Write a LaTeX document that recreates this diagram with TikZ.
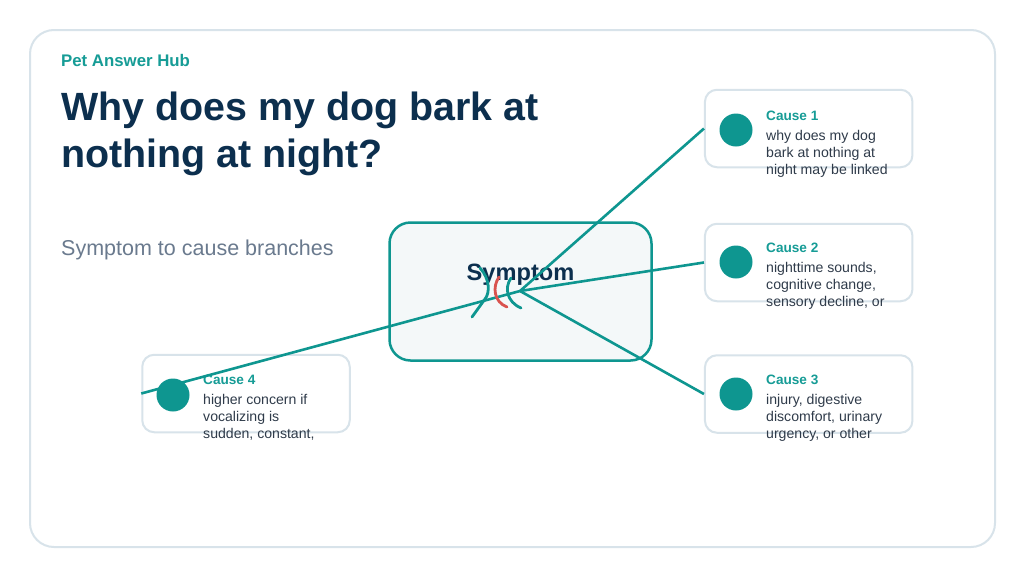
\documentclass[tikz,border=0pt]{standalone}
\usepackage{fontspec}
\setmainfont{Liberation Sans}
\definecolor{tealc}{RGB}{14,150,144}
\definecolor{tealtxt}{RGB}{22,156,150}
\definecolor{navy}{RGB}{12,47,78}
\definecolor{subgray}{RGB}{106,122,142}
\definecolor{bodyc}{RGB}{47,59,74}
\definecolor{cardline}{RGB}{216,227,234}
\definecolor{boxfill}{RGB}{244,248,249}
\definecolor{wavered}{RGB}{217,83,79}
\begin{document}
\begin{tikzpicture}[x=1pt, y=-1pt,
  card/.style={draw=cardline, line width=2pt, fill=white, rounded corners=12pt,
    minimum width=207.5, minimum height=77.5, inner sep=0pt},
  dot/.style={circle, fill=tealc, minimum size=33, inner sep=0pt},
  cause/.style={anchor=base west, inner sep=0pt, text=tealtxt,
    font=\fontsize{13.6}{16}\selectfont\bfseries},
  body/.style={anchor=north west, inner sep=0pt, align=left, text=bodyc,
    font=\fontsize{14.1}{17}\selectfont},
  link/.style={draw=tealc, line width=2.6pt},
  wave/.style={line width=2.8pt, line cap=round}]
  \useasboundingbox (0,0) rectangle (1024,576);
  \fill[white] (0,0) rectangle (1024,576);
  \draw[cardline, line width=2pt, rounded corners=24pt] (30,30) rectangle (995,547);

  \node[anchor=base west, inner sep=0pt, text=tealtxt, font=\fontsize{16.8}{20}\selectfont\bfseries] (brand) at (61,66) {Pet Answer Hub};
  \node[anchor=north west, inner sep=0pt, align=left, text=navy, font=\fontsize{39.4}{46.7}\selectfont\bfseries] (title) at (61,91.8) {Why does my dog bark at\\nothing at night?};
  \node[anchor=base west, inner sep=0pt, text=subgray, font=\fontsize{21.5}{26}\selectfont] (sub) at (61,255) {Symptom to cause branches};

  \node[draw=tealc, line width=2.5pt, fill=boxfill, rounded corners=21pt, minimum width=262, minimum height=138, inner sep=0pt] (symbox) at (520.5,291.5) {};
  \node[anchor=base, inner sep=0pt, text=navy, font=\fontsize{23.6}{28}\selectfont\bfseries] (symtxt) at (520.5,280) {Symptom};
  \coordinate (hub) at (520,291);

  \node[card] (card1) at (808.7,128.5) {};
  \node[card] (card2) at (808.7,262.5) {};
  \node[card] (card3) at (808.7,394) {};
  \node[card] (card4) at (246,393.5) {};
  \node[dot] (dot1) at (736,130) {};
  \node[dot] (dot2) at (736,262) {};
  \node[dot] (dot3) at (736,394) {};
  \node[dot] (dot4) at (173,395) {};

  \node[cause] (c1) at (766,120) {Cause 1};
  \node[body] (b1) at (766,130) {why does my dog\\bark at nothing at\\night may be linked};
  \node[cause] (c2) at (766,252) {Cause 2};
  \node[body] (b2) at (766,262) {nighttime sounds,\\cognitive change,\\sensory decline, or};
  \node[cause] (c3) at (766,384) {Cause 3};
  \node[body] (b3) at (766,394) {injury, digestive\\discomfort, urinary\\urgency, or other};
  \node[cause] (c4) at (203,384) {Cause 4};
  \node[body] (b4) at (203,394.5) {higher concern if\\vocalizing is\\sudden, constant,};

  \draw[link] (hub) -- (card1.west);
  \draw[link] (hub) -- (card2.west);
  \draw[link] (hub) -- (card3.west);
  \draw[link] (hub) -- (card4.west);

  \draw[wave, tealc] (480,268) .. controls (490,279) and (490,293) .. (485,299) -- (472,317);
  \draw[wave, wavered] (499,277) .. controls (492,287) and (494,302) .. (507,307);
  \draw[wave, tealc] (511,278) .. controls (504,288) and (507,302) .. (521,308);
\end{tikzpicture}
\end{document}
